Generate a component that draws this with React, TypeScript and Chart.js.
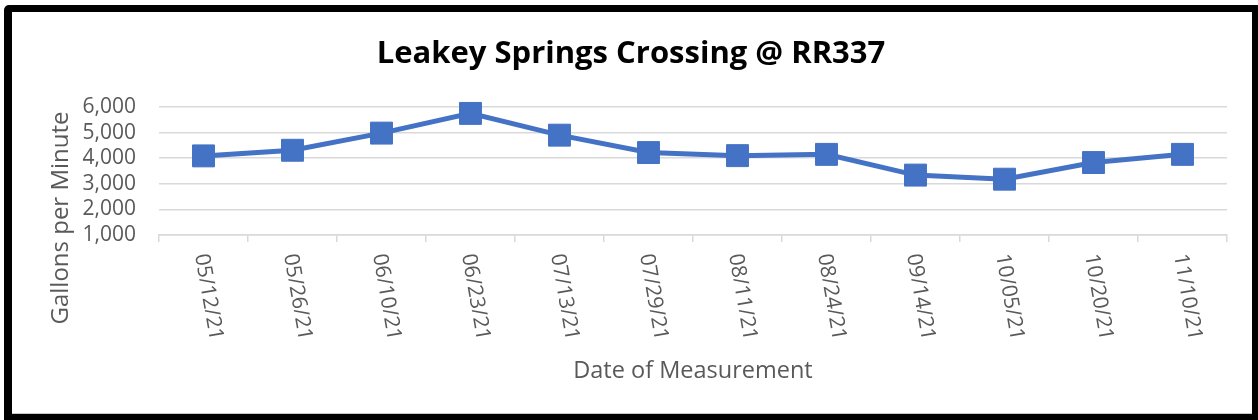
import React, { useEffect, useRef } from "react";
import { Chart, registerables } from "chart.js";

Chart.register(...registerables);

const chartTitle = "Leakey Springs Crossing @ RR337";
const xAxisTitle = "Date of Measurement";
const yAxisTitle = "Gallons per Minute";

const measurementDates = [
  "05/12/21",
  "05/26/21",
  "06/10/21",
  "06/23/21",
  "07/13/21",
  "07/29/21",
  "08/11/21",
  "08/24/21",
  "09/14/21",
  "10/05/21",
  "10/20/21",
  "11/10/21",
];

const flowGpm = [4090, 4310, 4980, 5750, 4900, 4220, 4100, 4150, 3340, 3180, 3830, 4150];

const yAxisMin = 1000;
const yAxisMax = 6000;
const yAxisStep = 1000;

const FONT = "'Open Sans', sans-serif";
const TEXT_COLOR = "#595959";
const GRID_COLOR = "#d9d9d9";
const SERIES_COLOR = "#4472C4";

const textPlugin = {
  id: "customText",
  afterDraw(chart: any) {
    const ctx = chart.ctx as CanvasRenderingContext2D;
    const area = chart.chartArea;
    const xs = chart.scales.x;
    ctx.save();
    // main title
    ctx.fillStyle = "#000000";
    ctx.font = `bold 31px ${FONT}`;
    ctx.textAlign = "center";
    ctx.textBaseline = "alphabetic";
    ctx.fillText(chartTitle, 631, 63);

    // x axis title
    ctx.fillStyle = TEXT_COLOR;
    ctx.font = `23.5px ${FONT}`;
    ctx.fillText(xAxisTitle, (area.left + area.right) / 2, 378);

    // y axis title
    ctx.save();
    ctx.font = `24px ${FONT}`;
    ctx.translate(68, 218);
    ctx.rotate(-Math.PI / 2);
    ctx.fillText(yAxisTitle, 0, 0);
    ctx.restore();

    // rotated category labels (reading top to bottom)
    ctx.font = `21px ${FONT}`;
    ctx.textBaseline = "middle";
    ctx.textAlign = "center";
    measurementDates.forEach((label, i) => {
      const x = xs.getPixelForValue(i) + 5;
      ctx.save();
      ctx.translate(x, 297);
      ctx.rotate((80 * Math.PI) / 180);
      ctx.fillText(label, 0, 0);
      ctx.restore();
    });
    ctx.restore();
  },
};

export default function App() {
  const canvasRef = useRef<HTMLCanvasElement | null>(null);

  useEffect(() => {
    if (!canvasRef.current) return;
    const chart = new Chart(canvasRef.current, {
      type: "line",
      data: {
        labels: measurementDates,
        datasets: [
          {
            data: flowGpm,
            borderColor: SERIES_COLOR,
            backgroundColor: SERIES_COLOR,
            borderWidth: 5,
            pointStyle: "rect",
            pointRadius: 15.5,
            pointBorderWidth: 1,
            pointBorderColor: SERIES_COLOR,
            pointBackgroundColor: SERIES_COLOR,
            tension: 0,
            clip: false as any,
          },
        ],
      },
      options: {
        responsive: false,
        animation: false,
        layout: { padding: { left: 0, right: 31, top: 107, bottom: 0 } },
        plugins: {
          legend: { display: false },
          tooltip: { enabled: false },
          title: { display: false },
        },
        scales: {
          x: {
            offset: true,
            grid: {
              offset: true,
              drawOnChartArea: false,
              drawTicks: true,
              tickLength: 7,
              color: GRID_COLOR,
              lineWidth: 1.5,
            },
            border: { display: true, color: GRID_COLOR, width: 1.5 },
            ticks: { display: false },
            afterFit: (s: any) => {
              s.height = 185;
            },
          },
          y: {
            min: yAxisMin,
            max: yAxisMax,
            ticks: {
              stepSize: yAxisStep,
              autoSkip: false,
              padding: 23,
              color: TEXT_COLOR,
              font: { family: FONT, size: 21 },
            },
            grid: { drawTicks: false, color: GRID_COLOR, lineWidth: 1.5 },
            border: { display: false },
            afterFit: (s: any) => {
              s.width = 159;
            },
          },
        },
      },
      plugins: [textPlugin],
    });
    return () => chart.destroy();
  }, []);

  return (
    <div style={{ position: "absolute", left: 0, top: 0, width: 1258, height: 420, background: "#fff" }}>
      <canvas
        ref={canvasRef}
        width={1258}
        height={420}
        style={{ position: "absolute", left: 0, top: 0, width: 1258, height: 420 }}
      />
      <div
        style={{
          position: "absolute",
          left: 4,
          top: 5,
          width: 1254,
          height: 415,
          boxSizing: "border-box",
          borderStyle: "solid",
          borderColor: "#000",
          borderTopWidth: 7,
          borderLeftWidth: 8,
          borderRightWidth: 6,
          borderBottomWidth: 6,
          borderTopLeftRadius: 5,
          boxShadow: "inset 0 -1px 0 #c8c8c8",
          pointerEvents: "none",
        }}
      />
    </div>
  );
}
